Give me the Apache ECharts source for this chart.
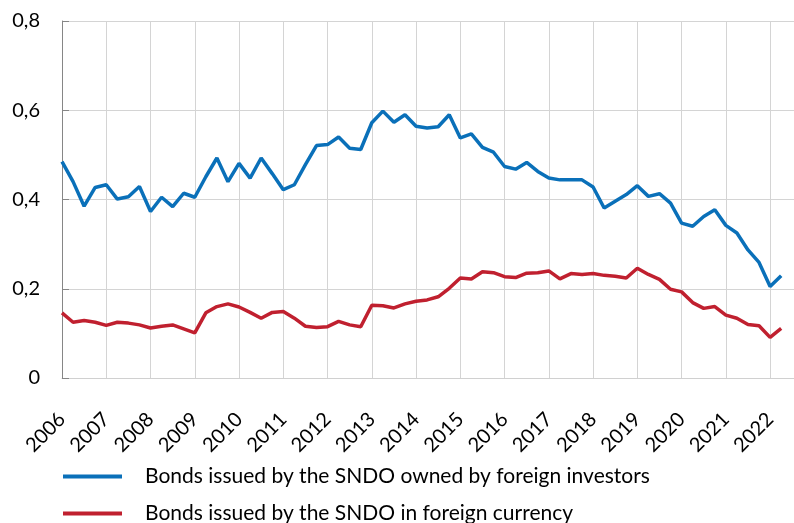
<!DOCTYPE html>
<html>
<head>
<meta charset="utf-8">
<script src="https://cdn.jsdelivr.net/npm/echarts@6/dist/echarts.min.js"></script>
<style>
  html, body { margin: 0; padding: 0; background: #fff; }
  #chart { width: 794px; height: 523px; }
</style>
</head>
<body>
<div id="chart"></div>
<script>
// quarterly observations, 2006 Q1 .. 2022 Q2
const firstYear = 2006;
const foreignOwned = [
  0.485, 0.44, 0.385, 0.427, 0.433, 0.401, 0.406, 0.429,
  0.373, 0.405, 0.384, 0.414, 0.405, 0.451, 0.493, 0.44,
  0.481, 0.448, 0.493, 0.458, 0.422, 0.433, 0.478, 0.521,
  0.523, 0.54, 0.515, 0.512, 0.572, 0.598, 0.573, 0.59,
  0.564, 0.56, 0.563, 0.59, 0.538, 0.547, 0.517, 0.506,
  0.474, 0.468, 0.483, 0.463, 0.448, 0.444, 0.444, 0.444,
  0.428, 0.381, 0.396, 0.411, 0.431, 0.407, 0.413, 0.392,
  0.347, 0.34, 0.362, 0.377, 0.342, 0.325, 0.287, 0.259,
  0.205, 0.229
];
const foreignCurrency = [
  0.146, 0.125, 0.129, 0.125, 0.118, 0.125, 0.123, 0.119,
  0.112, 0.116, 0.119, 0.11, 0.101, 0.146, 0.16, 0.166,
  0.159, 0.147, 0.134, 0.147, 0.149, 0.134, 0.116, 0.113,
  0.115, 0.127, 0.119, 0.115, 0.163, 0.162, 0.157, 0.166,
  0.172, 0.175, 0.182, 0.201, 0.224, 0.222, 0.238, 0.236,
  0.227, 0.225, 0.235, 0.236, 0.24, 0.222, 0.234, 0.232,
  0.234, 0.23, 0.228, 0.224, 0.246, 0.232, 0.221, 0.199,
  0.193, 0.169, 0.156, 0.16, 0.141, 0.134, 0.12, 0.117,
  0.091, 0.111
];
const seriesNames = [
  'Bonds issued by the SNDO owned by foreign investors',
  'Bonds issued by the SNDO in foreign currency'
];

// position of each quarter on the time axis (in years)
const toPoints = (arr) => arr.map((v, i) => [firstYear + i / 4, v]);

const chart = echarts.init(document.getElementById('chart'));
const font = 'Lato, "Open Sans", sans-serif';

chart.setOption({
  backgroundColor: '#fff',
  animation: false,
  textStyle: { fontFamily: font },
  grid: { left: 62, right: 0, top: 21, bottom: 145 },
  legend: {
    orient: 'vertical',
    left: 63,
    top: 466,
    height: 150,
    padding: 0,
    icon: 'rect',
    itemWidth: 59,
    itemHeight: 4,
    itemGap: 16,
    textStyle: {
      fontFamily: font,
      fontSize: 21,
      lineHeight: 20,
      color: '#000',
      padding: [0, 0, 0, 18]
    },
    data: seriesNames
  },
  xAxis: {
    type: 'value',
    min: 2006,
    max: 2022.54,
    interval: 1,
    axisLine: { lineStyle: { color: '#d0d0d0', width: 1 } },
    axisTick: { show: false },
    splitLine: { show: true, lineStyle: { color: '#d4d4d4', width: 1 } },
    axisLabel: {
      rotate: 45,
      margin: 38,
      fontSize: 20,
      color: '#000',
      fontFamily: font,
      showMaxLabel: false,
      formatter: (v) => (Number.isInteger(v) ? String(v) : '')
    }
  },
  yAxis: {
    type: 'value',
    min: 0,
    max: 0.8,
    interval: 0.2,
    axisLine: { show: true, lineStyle: { color: '#868686', width: 1 } },
    axisTick: { show: true, inside: true, length: 7, lineStyle: { color: '#868686' } },
    splitLine: { lineStyle: { color: '#d4d4d4', width: 1 } },
    axisLabel: {
      margin: 22,
      fontSize: 20,
      color: '#000',
      fontFamily: font,
      formatter: (v) => (v === 0 ? '0' : v.toFixed(1).replace('.', ','))
    }
  },
  series: [
    {
      name: seriesNames[0],
      type: 'line',
      data: toPoints(foreignOwned),
      symbol: 'none',
      itemStyle: { color: '#0a70b9' },
      lineStyle: { color: '#0a70b9', width: 3.5 }
    },
    {
      name: seriesNames[1],
      type: 'line',
      data: toPoints(foreignCurrency),
      symbol: 'none',
      itemStyle: { color: '#c0202f' },
      lineStyle: { color: '#c0202f', width: 3.5 }
    }
  ]
});
</script>
</body>
</html>
